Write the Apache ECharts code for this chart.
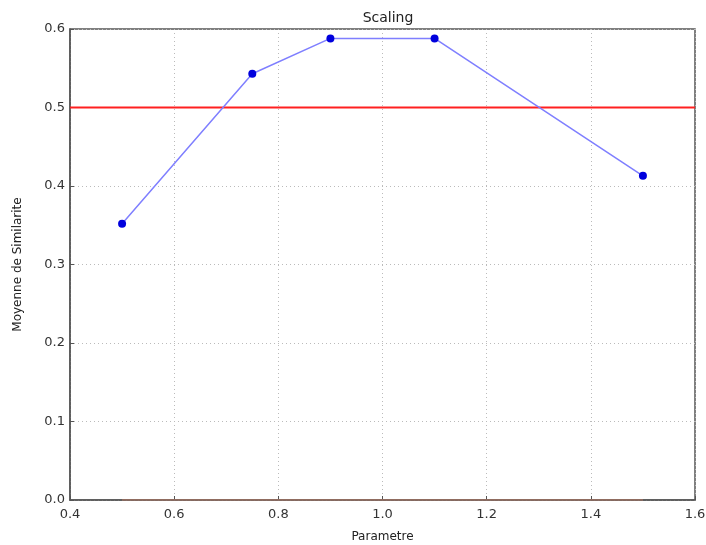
<!DOCTYPE html>
<html>
<head>
    <meta charset="utf-8">
    <title>Scaling</title>
    <script src="https://cdn.jsdelivr.net/npm/echarts@6/dist/echarts.min.js"></script>
    <style>
        html, body { margin: 0; padding: 0; background: #fff; }
        #chart { width: 706px; height: 545px; }
    </style>
</head>
<body>
    <div id="chart"></div>
    <script>
        const params = [0.5, 0.75, 0.9, 1.1, 1.5];
        const similarity = [0.352, 0.543, 0.588, 0.588, 0.413];
        const thresholdX = [0.4, 1.6];
        const thresholdY = [0.5, 0.5];
        const zeroX = [0.5, 1.5];
        const zeroY = [0, 0];

        const chart = echarts.init(document.getElementById('chart'));
        const font = 'DejaVu Sans';

        chart.setOption({
            animation: false,
            title: {
                text: 'Scaling',
                left: 383,
                top: 6,
                textAlign: 'center',
                textStyle: { fontFamily: font, fontSize: 14, fontWeight: 'normal', color: '#222' }
            },
            grid: {
                left: 70, right: 11, top: 29, bottom: 45,
                outerBoundsMode: 'none',
                show: true, borderColor: '#555', borderWidth: 1.5
            },
            xAxis: {
                type: 'value',
                min: 0.4, max: 1.6, interval: 0.2,
                name: 'Parametre',
                nameLocation: 'middle',
                nameGap: 31,
                nameTextStyle: { fontFamily: font, fontSize: 12, color: '#222' },
                axisLine: { lineStyle: { color: '#555', width: 1.5 } },
                axisTick: { inside: true, length: 4, lineStyle: { color: '#555' } },
                axisLabel: { fontFamily: font, fontSize: 13, color: '#333', margin: 8, formatter: v => v.toFixed(1) },
                splitLine: { lineStyle: { color: '#bbb', type: [1, 3] } }
            },
            yAxis: {
                type: 'value',
                min: 0, max: 0.6, interval: 0.1,
                name: 'Moyenne de Similarite',
                nameLocation: 'middle',
                nameGap: 46,
                nameTextStyle: { fontFamily: font, fontSize: 12, color: '#222' },
                axisLine: { lineStyle: { color: '#555', width: 1.5 } },
                axisTick: { inside: true, length: 4, lineStyle: { color: '#555' } },
                axisLabel: { fontFamily: font, fontSize: 13, color: '#333', margin: 5, formatter: v => v.toFixed(1) },
                splitLine: { lineStyle: { color: '#bbb', type: [1, 3] } }
            },
            series: [
                {
                    type: 'line',
                    data: zeroX.map((x, i) => [x, zeroY[i]]),
                    symbol: 'none',
                    lineStyle: { color: '#a07060', width: 1.5 },
                    z: 1
                },
                {
                    type: 'line',
                    data: thresholdX.map((x, i) => [x, thresholdY[i]]),
                    symbol: 'none',
                    lineStyle: { color: '#ff2020', width: 2 },
                    z: 2
                },
                {
                    type: 'line',
                    data: params.map((x, i) => [x, similarity[i]]),
                    symbol: 'circle',
                    symbolSize: 8,
                    itemStyle: { color: '#0000dd' },
                    lineStyle: { color: '#7f7fff', width: 1.5 },
                    z: 3
                }
            ]
        });
    </script>
</body>
</html>
